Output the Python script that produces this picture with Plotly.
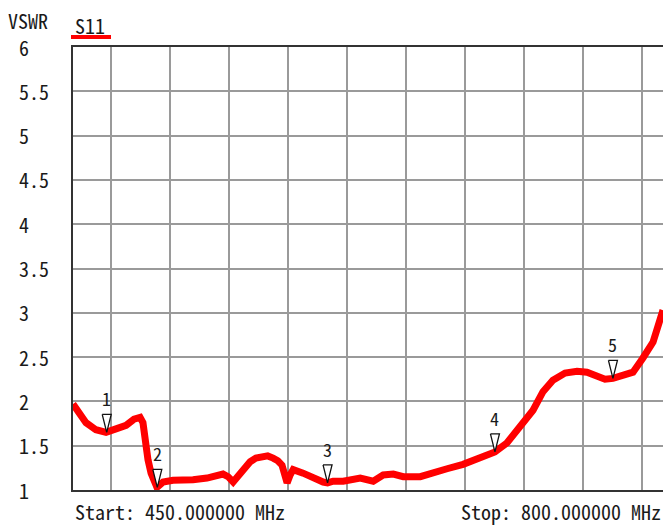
import plotly.graph_objects as go

# ---- data ----
freq_mhz = [450.0, 453.6, 457.7, 463.6, 469.6, 475.5, 481.5, 486.2, 489.8, 491.5,
            492.7, 494.5, 496.3, 498.1, 499.8, 503.4, 509.3, 521.2, 529.5, 539.0,
            542.0, 545.0, 549.1, 552.0, 555.1, 558.5, 562.2, 565.5, 568.7, 571.5,
            574.0, 575.8, 577.0, 578.8, 580.6, 586.5, 592.5, 598.4, 601.0, 604.3,
            610.3, 620.4, 628.1, 634.0, 640.0, 645.9, 656.0, 661.8, 671.9, 681.4,
            689.7, 697.5, 700.3, 707.4, 715.1, 722.9, 728.8, 734.7, 741.9, 749.0,
            754.9, 760.8, 765.6, 770.3, 776.3, 782.2, 788.1, 794.1, 800.0]
vswr = [1.97, 1.87, 1.76, 1.68, 1.65, 1.69, 1.73, 1.80, 1.82, 1.76,
        1.56, 1.34, 1.19, 1.08, 1.03, 1.09, 1.11, 1.115, 1.135, 1.18,
        1.15, 1.09, 1.19, 1.27, 1.32, 1.36, 1.38, 1.385, 1.36, 1.33,
        1.28, 1.19, 1.08, 1.17, 1.23, 1.19, 1.135, 1.09, 1.08, 1.10,
        1.10, 1.135, 1.10, 1.17, 1.18, 1.15, 1.15, 1.19, 1.24, 1.29,
        1.35, 1.41, 1.43, 1.53, 1.70, 1.90, 2.11, 2.24, 2.32, 2.34,
        2.33, 2.28, 2.25, 2.26, 2.29, 2.33, 2.49, 2.67, 3.03]

marker_ids = ["1", "2", "3", "4", "5"]
marker_freq = [470.0, 500.0, 601.0, 700.3, 770.3]
marker_vswr = [1.65, 1.03, 1.08, 1.43, 2.26]

y_ticks = [6, 5.5, 5, 4.5, 4, 3.5, 3, 2.5, 2, 1.5, 1]
y_tick_labels = ["6", "5.5", "5", "4.5", "4", "3.5", "3", "2.5", "2", "1.5", "1"]

start_label = "Start: 450.000000 MHz"
stop_label = "Stop: 800.000000 MHz"
trace_name = "S11"
y_title = "VSWR"

# ---- layout constants ----
W, H = 663, 525
ML, MR, MT, MB = 73, 0, 47, 35
X_RANGE = [450, 800]
Y_RANGE = [1, 6]
PW, PH = W - ML - MR, H - MT - MB
x_per_px = (X_RANGE[1] - X_RANGE[0]) / PW
y_per_px = (Y_RANGE[1] - Y_RANGE[0]) / PH

FONT = "Noto Sans Mono CJK JP, DejaVu Sans Mono, monospace"
TXT = "#1a1a1a"

fig = go.Figure()
fig.add_trace(go.Scatter(x=freq_mhz, y=vswr, mode="lines",
                         line=dict(color="#ff0000", width=7),
                         showlegend=False, hoverinfo="skip"))

# marker triangles (tip on the curve)
tri_w, tri_h = 4.5, 18
tx, ty = [], []
for f, v in zip(marker_freq, marker_vswr):
    dx, dy = tri_w * x_per_px, tri_h * y_per_px
    tx += [f - dx, f + dx, f, f - dx, None]
    ty += [v + dy, v + dy, v, v + dy, None]
fig.add_trace(go.Scatter(x=tx, y=ty, mode="lines", fill="toself",
                         fillcolor="white", line=dict(color="#111", width=1.3),
                         showlegend=False, hoverinfo="skip"))

annotations = []
for mid, f, v in zip(marker_ids, marker_freq, marker_vswr):
    annotations.append(dict(x=f, y=v, xref="x", yref="y", text=mid, showarrow=False,
                            yanchor="bottom", yshift=tri_h + 1,
                            font=dict(family=FONT, size=18, color=TXT)))
for t, lab in zip(y_ticks, y_tick_labels):
    annotations.append(dict(x=(17 - ML) / PW, y=t, xref="paper", yref="y", text=lab,
                            showarrow=False, xanchor="left", yanchor="middle",
                            font=dict(family=FONT, size=20, color=TXT)))
annotations += [
    dict(x=(6 - ML) / PW, y=1 + (MT - 20) / PH, xref="paper", yref="paper", text=y_title,
         showarrow=False, xanchor="left", yanchor="middle",
         font=dict(family=FONT, size=20, color=TXT)),
    dict(x=0, y=1 + (MT - 25) / PH, xref="paper", yref="paper", text=trace_name,
         showarrow=False, xanchor="left", yanchor="middle",
         font=dict(family=FONT, size=20, color=TXT)),
    dict(x=0, y=-(511 - MT - PH) / PH, xref="paper", yref="paper", text=start_label,
         showarrow=False, xanchor="left", yanchor="middle",
         font=dict(family=FONT, size=20, color=TXT)),
    dict(x=1, y=-(512 - MT - PH) / PH, xref="paper", yref="paper", text=stop_label,
         showarrow=False, xanchor="right", yanchor="middle",
         font=dict(family=FONT, size=20, color=TXT)),
]

fig.update_layout(
    width=W, height=H,
    margin=dict(l=ML, r=MR, t=MT, b=MB, pad=0),
    paper_bgcolor="white", plot_bgcolor="white",
    annotations=annotations,
    shapes=[dict(type="line", xref="paper", yref="paper",
                 x0=(71 - ML) / PW, x1=(111 - ML) / PW,
                 y0=1 + (MT - 37) / PH, y1=1 + (MT - 37) / PH,
                 line=dict(color="#ff0000", width=4))],
    xaxis=dict(range=X_RANGE, tick0=472.5, dtick=35, showticklabels=False,
               ticks="", showgrid=True, gridcolor="#9a9a9a", gridwidth=1.5,
               zeroline=False, showline=True, linecolor="#333", linewidth=2,
               mirror=True),
    yaxis=dict(range=Y_RANGE, dtick=0.5, showticklabels=False, ticks="",
               showgrid=True, gridcolor="#9a9a9a", gridwidth=1.5, zeroline=False,
               showline=True, linecolor="#333", linewidth=2, mirror=False),
)

fig.write_html(
    "out.html",
    config={"displayModeBar": False},
    post_script="document.body.style.margin='0';document.body.style.padding='0';"
                "document.documentElement.style.overflow='hidden';"
                "document.body.style.overflow='hidden';",
)
